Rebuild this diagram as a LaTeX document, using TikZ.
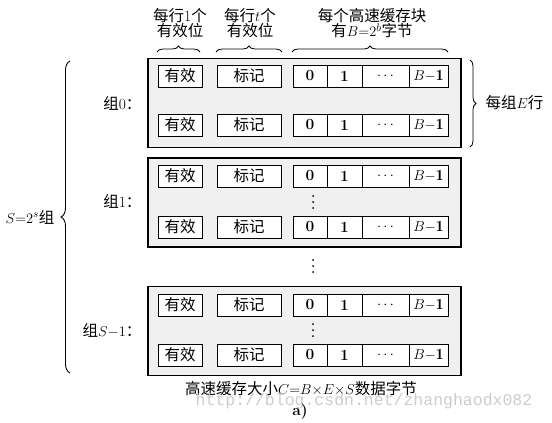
\documentclass[tikz,border=0pt]{standalone}
\usepackage{fontspec}
\newfontfamily\cjk{Noto Sans CJK SC}
\newfontfamily\wmfont{Liberation Mono}
\usetikzlibrary{decorations.pathreplacing}
\newcommand\zh[1]{{\cjk #1}}
\newcommand\mkline[2]{%
  \node[cell,minimum width=44pt] (#1v) at (180,#2) {\zh{有效}};
  \node[cell,minimum width=64pt] (#1t) at (249,#2) {\zh{标记}};
  \node[cell,minimum width=34pt] (#1a) at (310,#2) {\textbf{0}};
  \node[cell,minimum width=35pt] (#1b) at (344.5,#2) {\textbf{1}};
  \node[cell,minimum width=47pt] (#1c) at (385.5,#2) {$\cdots$};
  \node[cell,minimum width=39pt] (#1d) at (428.5,#2) {$B{-}\mathbf{1}$};
}
\newcommand\vdotsat[2]{%
  \fill (#1,#2-6) circle (1pt);
  \fill (#1,#2) circle (1pt);
  \fill (#1,#2+6) circle (1pt);
}
\begin{document}
\begin{tikzpicture}[x=1pt,y=-1pt,
  every node/.style={font=\fontsize{15.5}{18}\selectfont},
  setbox/.style={draw, line width=1.1pt, fill=gray!12, minimum width=313pt, minimum height=89pt, inner sep=0pt},
  cell/.style={draw, line width=0.9pt, fill=white, minimum height=22pt, inner sep=0pt},
  brc/.style={decorate, decoration={brace, amplitude=6pt}, line width=0.8pt},
  bigbrc/.style={decorate, decoration={brace, amplitude=9pt}, line width=0.9pt}]
\useasboundingbox (0,0) rectangle (552,423);

% top labels
\node[align=center] (l1) at (180,23) {\zh{每行}1\zh{个}\\[-3pt]\zh{有效位}};
\node[align=center] (l2) at (250,23) {\zh{每行}$t$\zh{个}\\[-3pt]\zh{有效位}};
\node[align=center] (l3) at (372,23) {\zh{每个高速缓存块}\\[-3pt]\zh{有}$B{=}2^b$\zh{字节}};
\coordinate (u1a) at (157,52); \coordinate (u1b) at (200,52);
\coordinate (u2a) at (216,52); \coordinate (u2b) at (282,52);
\coordinate (u3a) at (292,52); \coordinate (u3b) at (448,52);
\draw[brc] (u1a) -- (u1b);
\draw[brc] (u2a) -- (u2b);
\draw[brc] (u3a) -- (u3b);

% sets
\node[setbox] (set0) at (304.5,103) {};
\node[setbox] (set1) at (304.5,202.5) {};
\node[setbox] (setS) at (304.5,331) {};

\mkline{r00}{76}
\mkline{r01}{125}
\mkline{r10}{176}
\mkline{r11}{227}
\mkline{rS0}{305}
\mkline{rS1}{355}

\vdotsat{313}{202}
\vdotsat{313}{330}
\vdotsat{313}{266}

% set labels
\node[anchor=east] (g0) at (145,103) {\zh{组}0\zh{：}};
\node[anchor=east] (g1) at (145,201) {\zh{组}1\zh{：}};
\node[anchor=east] (gS) at (145,331) {\zh{组}$S{-}1$\zh{：}};

% right brace
\coordinate (rb1) at (470,60); \coordinate (rb2) at (470,147);
\draw[brc] (rb1) -- (rb2);
\node[anchor=west] (ep) at (482,103) {\zh{每组}$E$\zh{行}};

% left brace
\coordinate (lb1) at (70,373); \coordinate (lb2) at (70,61);
\draw[bigbrc] (lb1) -- (lb2);
\node (sl) at (30,217) {$S{=}2^s$\zh{组}};

% bottom
\node (cap) at (301,389) {\zh{高速缓存大小}$C{=}B{\times}E{\times}S$\zh{数据字节}};
\node[text=gray!40, font=\wmfont\fontsize{16.5}{18}\selectfont] (wm) at (364,401) {http://blog.csdn.net/zhanghaodx082};
\node (sub) at (300,412) {\textbf{a)}};
\end{tikzpicture}
\end{document}
